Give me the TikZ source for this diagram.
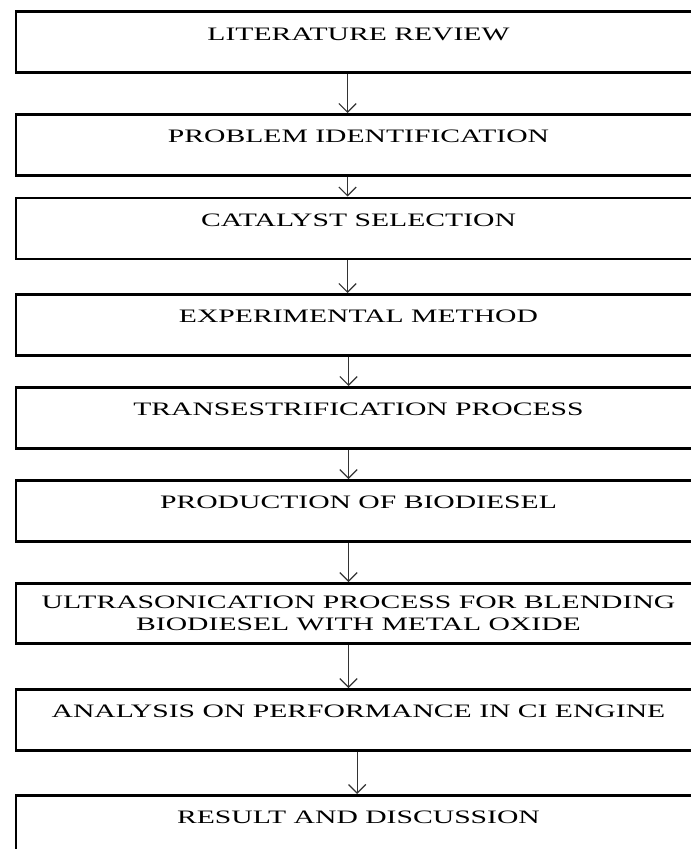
\documentclass[tikz,border=0pt]{standalone}
\usepackage{fontspec}
\setmainfont{Liberation Serif}[FakeStretch=1.56]
\usetikzlibrary{arrows.meta}

\begin{document}
\begin{tikzpicture}[x=.75pt, y=-.75pt,
    box/.style={draw, line width=2pt, anchor=north west, inner sep=0pt,
      minimum width=514pt, minimum height=45.75pt,
      font=\fontsize{14.25pt}{16.5pt}\selectfont},
    stage/.style={box, text height=21.2pt, text depth=24.5pt},
    flow/.style={line width=.9pt, black!80, -{Straight Barb[length=6.5pt, width=13pt]}}]
    \useasboundingbox (0, 0) rectangle (691, 849);
    \clip (0, 0) rectangle (691, 849);

    \node[stage] (lit) at (14.5, 10.5) {LITERATURE REVIEW};
    \node[stage] (prob) at (14.5, 113) {PROBLEM IDENTIFICATION};
    \node[stage] (cat) at (14.5, 196.5) {CATALYST SELECTION};
    \node[stage] (exp) at (14.5, 293) {EXPERIMENTAL METHOD};
    \node[stage] (trans) at (14.5, 386) {TRANSESTRIFICATION PROCESS};
    \node[stage] (prod) at (14.5, 479) {PRODUCTION OF BIODIESEL};
    \node[box, minimum height=45pt, align=center] (ultra) at (14.5, 582) {ULTRASONICATION PROCESS FOR BLENDING\\BIODIESEL WITH METAL OXIDE};
    \node[stage] (ana) at (14.5, 688) {ANALYSIS ON PERFORMANCE IN CI ENGINE};
    \node[stage] (res) at (14.5, 794) {RESULT AND DISCUSSION};

    \draw[flow] ([xshift=-8.25pt]lit.south) -- ([xshift=-8.25pt]prob.north);
    \draw[flow] ([xshift=-8.25pt]prob.south) -- ([xshift=-8.25pt]cat.north);
    \draw[flow] ([xshift=-8.25pt]cat.south) -- ([xshift=-8.25pt]exp.north);
    \draw[flow] ([xshift=-7.5pt]exp.south) -- ([xshift=-7.5pt]trans.north);
    \draw[flow] ([xshift=-7.5pt]trans.south) -- ([xshift=-7.5pt]prod.north);
    \draw[flow] ([xshift=-7.5pt]prod.south) -- ([xshift=-7.5pt]ultra.north);
    \draw[flow] ([xshift=-7.5pt]ultra.south) -- ([xshift=-7.5pt]ana.north);
    \draw[flow] ([xshift=-1pt]ana.south) -- ([xshift=-1pt]res.north);
  \end{tikzpicture}
\end{document}
